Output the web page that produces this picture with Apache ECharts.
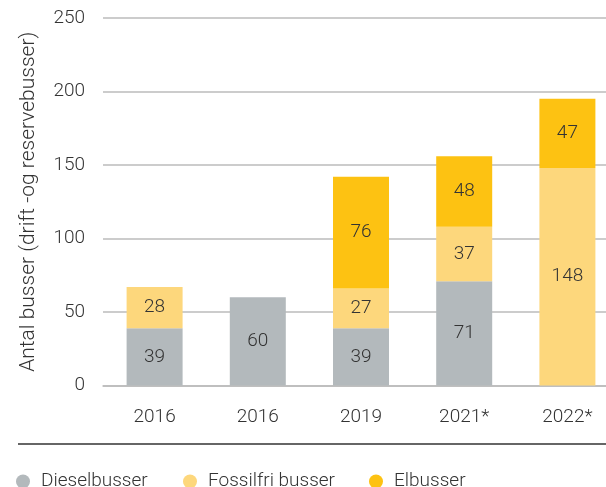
<!DOCTYPE html>
<html><head><meta charset="utf-8">
<script src="https://cdn.jsdelivr.net/npm/echarts@6/dist/echarts.min.js"></script>
<style>html,body{margin:0;padding:0;background:#fff}#c{width:606px;height:487px}</style>
</head><body><div id="c"></div>
<script>
const categories = ['2016', '2016', '2019', '2021*', '2022*'];
const diesel = [39, 60, 39, 71, 0];
const fossilfri = [28, 0, 27, 37, 148];
const el = [0, 0, 76, 48, 47];
const yTicks = [0, 50, 100, 150, 200, 250];
const seriesNames = ['Dieselbusser', 'Fossilfri busser', 'Elbusser'];

const FONT = 'Roboto';
const TXT = '#333';
const FS = 19;
const chart = echarts.init(document.getElementById('c'), null, {renderer: 'canvas'});
const lbl = {show: true, position: 'inside', color: TXT, fontSize: FS, fontFamily: FONT, fontWeight: 300,
  formatter: p => p.value > 0 ? p.value : ''};
function ser(name, data, color) {
  return {name, type: 'bar', stack: 's', data, barWidth: 56, itemStyle: {color}, label: lbl};
}
const legendLefts = [16, 183, 369];
chart.setOption({
  animation: false,
  textStyle: {fontFamily: FONT},
  grid: {left: 103, width: 516, top: 18, height: 367.5, outerBoundsMode: 'none', containLabel: false},
  xAxis: {type: 'category', data: categories,
    axisLine: {lineStyle: {color: '#bbb', width: 1.5}}, axisTick: {show: false},
    axisLabel: {color: TXT, fontSize: FS, fontWeight: 300, fontFamily: FONT, margin: 22}},
  yAxis: {type: 'value', min: yTicks[0], max: yTicks[yTicks.length - 1], interval: 50,
    name: 'Antal busser (drift -og reservebusser)', nameLocation: 'middle', nameGap: 64,
    nameTextStyle: {color: TXT, fontSize: 21, fontWeight: 300, fontFamily: FONT},
    axisLabel: {color: TXT, fontSize: FS, fontWeight: 300, fontFamily: FONT, margin: 18},
    splitLine: {lineStyle: {color: '#bbb', width: 1.5}}},
  legend: seriesNames.map((n, i) => ({bottom: -4, left: legendLefts[i], icon: 'circle', itemWidth: 14, itemHeight: 14,
    padding: 0, itemGap: 0,
    textStyle: {color: TXT, fontSize: FS, fontWeight: 300, fontFamily: FONT, padding: [0, 0, 0, 6]},
    data: [n]})),
  graphic: [{type: 'line', shape: {x1: 18, y1: 444, x2: 606, y2: 444}, style: {stroke: '#333', lineWidth: 1.5}}],
  series: [
    ser(seriesNames[0], diesel, '#b3b9bc'),
    ser(seriesNames[1], fossilfri, '#fdd77c'),
    ser(seriesNames[2], el, '#fdc212')
  ]
});
</script></body></html>
